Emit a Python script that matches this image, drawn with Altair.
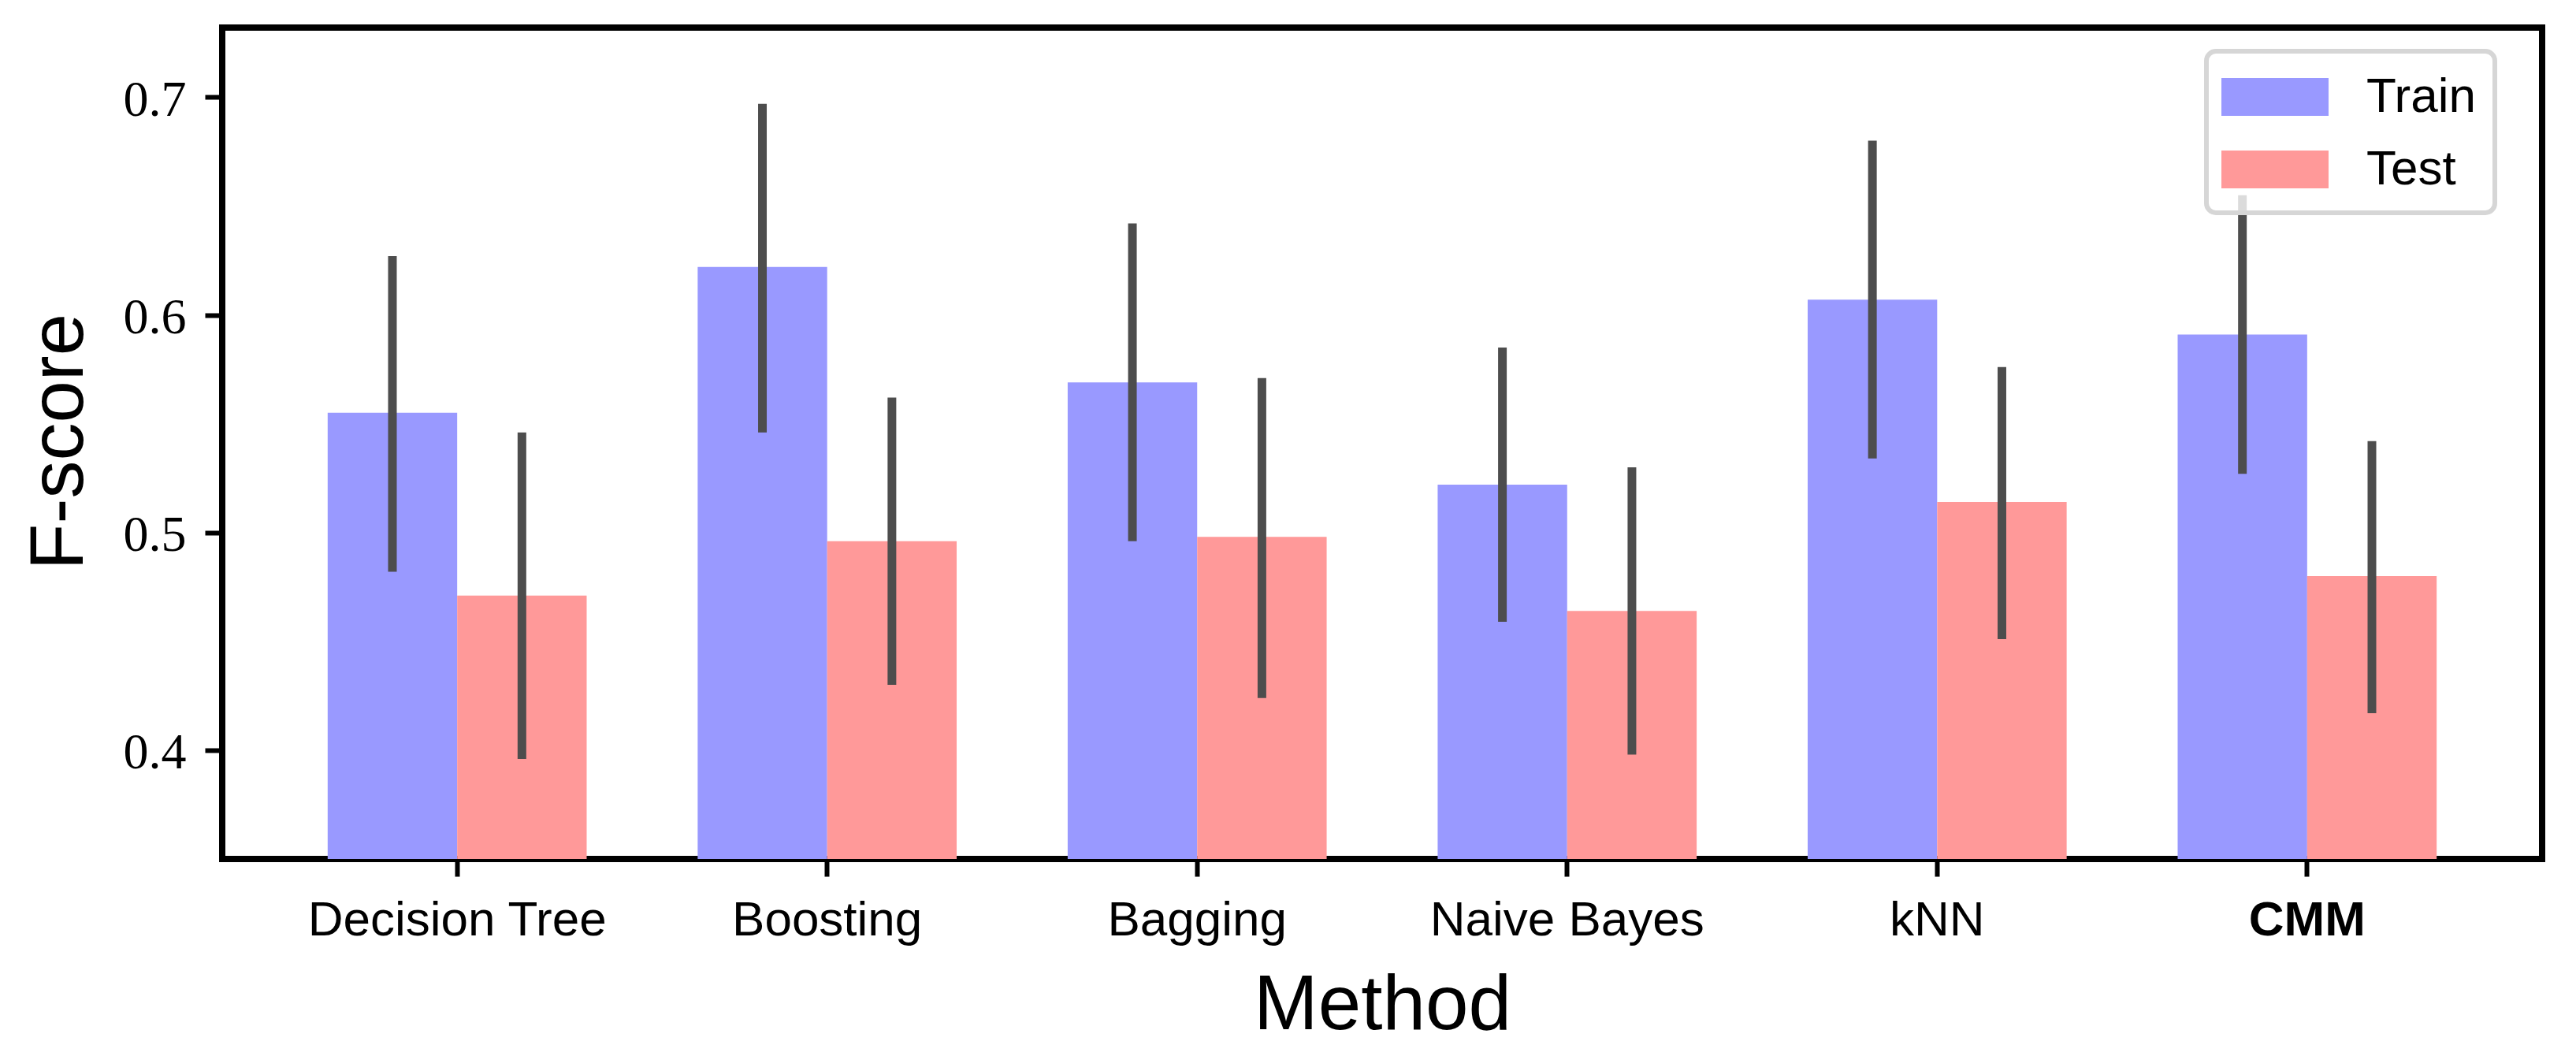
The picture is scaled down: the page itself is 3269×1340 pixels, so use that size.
import altair as alt
import pandas as pd

methods = ["Decision Tree", "Boosting", "Bagging", "Naive Bayes", "kNN", "CMM"]
series = ["Train", "Test"]
train = [0.555, 0.622, 0.569, 0.522, 0.607, 0.591]
train_lo = [0.482, 0.546, 0.496, 0.459, 0.534, 0.527]
train_hi = [0.627, 0.697, 0.642, 0.585, 0.680, 0.655]
test = [0.471, 0.496, 0.498, 0.464, 0.514, 0.480]
test_lo = [0.396, 0.430, 0.424, 0.398, 0.451, 0.417]
test_hi = [0.546, 0.562, 0.571, 0.530, 0.576, 0.542]
y_ticks = [0.4, 0.5, 0.6, 0.7]

rows = []
for i, m in enumerate(methods):
    rows.append({"Method": m, "Series": "Train", "value": train[i], "lo": train_lo[i], "hi": train_hi[i]})
    rows.append({"Method": m, "Series": "Test", "value": test[i], "lo": test_lo[i], "hi": test_hi[i]})
df = pd.DataFrame(rows)

SANS = "Liberation Sans"
SERIF = "Liberation Serif"

x_enc = alt.X(
    "Method:N",
    sort=methods,
    scale=alt.Scale(paddingInner=0.3, paddingOuter=0.285),
    axis=alt.Axis(
        title="Method",
        titleFont=SANS,
        titleFontSize=98,
        titleFontWeight="normal",
        titleColor="black",
        titleBaseline="alphabetic",
        titleX=1472,
        titleY=215,
        titleAlign="center",
        labelFont=SANS,
        labelFontSize=62,
        labelColor="black",
        labelAngle=0,
        labelLimit=0,
        labelBaseline="alphabetic",
        labelPadding=74,
        labelFontWeight=alt.ExprRef(expr="datum.value == 'CMM' ? 'bold' : 'normal'"),
        tickSize=22,
        tickWidth=6,
        tickColor="black",
        domain=False,
        grid=False,
    ),
)
xoff = alt.XOffset("Series:N", sort=series, scale=alt.Scale(paddingInner=0, paddingOuter=0))

y_scale = alt.Scale(domain=[0.35, 0.732], zero=False, nice=False)

bars = alt.Chart(df).mark_bar(clip=True, opacity=1).encode(
    x=x_enc,
    xOffset=xoff,
    y=alt.Y(
        "value:Q",
        scale=y_scale,
        axis=alt.Axis(
            title="F-score",
            titleFont=SANS,
            titleFontSize=96,
            titleFontWeight="normal",
            titleColor="black",
            titleAngle=270,
            titleAlign="center",
            titleBaseline="alphabetic",
            titleX=-178,
            titleY=525,
            values=y_ticks,
            format=".1f",
            labelFont=SERIF,
            labelFontSize=64,
            labelColor="black",
            labelBaseline="alphabetic",
            labelOffset=23,
            labelPadding=24,
            tickSize=22,
            tickWidth=6,
            tickColor="black",
            domain=False,
            grid=False,
        ),
    ),
    color=alt.Color(
        "Series:N",
        sort=series,
        scale=alt.Scale(domain=series, range=["#9999ff", "#ff9999"]),
        legend=alt.Legend(
            title=None,
            orient="none",
            legendX=2518,
            legendY=30,
            padding=24,
            fillColor="rgba(255,255,255,0.8)",
            strokeColor="#d6d6d6",
            cornerRadius=12,
            symbolType="M-2,-0.706L2,-0.706L2,0.706L-2,0.706Z",
            symbolSize=4624,
            symbolOffset=29,
            symbolStrokeWidth=0,
            symbolOpacity=1,
            labelFont=SANS,
            labelFontSize=62,
            labelColor="black",
            labelOffset=82,
            rowPadding=27,
        ),
    ),
)

rules = alt.Chart(df).mark_rule(color="#4d4d4d", strokeWidth=11, clip=True).encode(
    x=alt.X("Method:N", sort=methods),
    xOffset=alt.XOffset("Series:N", sort=series),
    y=alt.Y("lo:Q", scale=y_scale),
    y2="hi:Q",
)

chart = (
    alt.layer(bars, rules)
    .properties(
        width=2944,
        height=1055,
        background="white",
        autosize=alt.AutoSizeParams(type="none"),
        padding={"left": 274, "top": 27, "right": 35, "bottom": 242},
    )
    .configure_view(stroke="black", strokeWidth=8)
    .configure_legend(strokeWidth=6)
)

chart.save("out.html", embed_options={"renderer": "svg", "actions": False})
